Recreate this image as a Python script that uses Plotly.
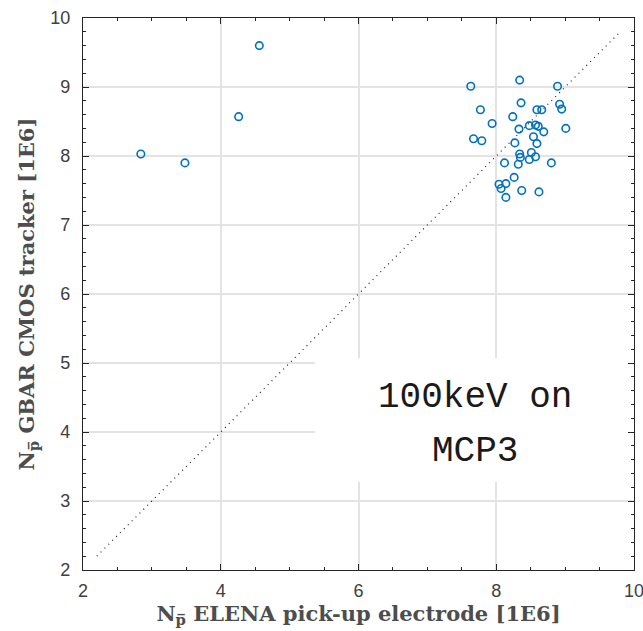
import plotly.graph_objects as go

# Antiproton counts per shot, in units of 1E6
x_pickup = [2.84, 3.48, 4.26, 4.56,
            7.63, 8.34, 8.89, 8.36, 7.77, 8.92, 8.95, 8.59, 8.66, 8.24,
            7.94, 8.48, 8.57, 8.61, 8.33, 8.69, 9.01, 7.67, 7.79, 8.54,
            8.27, 8.59, 8.34, 8.51, 8.35, 8.48, 8.57, 8.12, 8.32, 8.80,
            8.26, 8.04, 8.14, 8.07, 8.37, 8.62, 8.14]
y_cmos = [8.03, 7.90, 8.57, 9.60,
          9.01, 9.10, 9.01, 8.77, 8.67, 8.75, 8.68, 8.67, 8.67, 8.57,
          8.47, 8.44, 8.45, 8.43, 8.39, 8.35, 8.40, 8.25, 8.22, 8.28,
          8.19, 8.18, 8.03, 8.05, 7.98, 7.95, 7.99, 7.90, 7.88, 7.90,
          7.69, 7.59, 7.60, 7.53, 7.50, 7.48, 7.40]

# y = x reference line
diag = [2.2, 9.8]

x_ticks = [2, 4, 6, 8, 10]
y_ticks = [2, 3, 4, 5, 6, 7, 8, 9, 10]

label_lines = ["100keV on", "MCP3"]

frame = "#262626"
tick_col = "#404040"
grid_col = "#e3e3e3"

fig = go.Figure()

fig.add_trace(go.Scatter(
    x=diag, y=diag, mode="lines",
    line=dict(color="#222222", width=1.2, dash="1px,4.5px"),
    hoverinfo="skip", showlegend=False,
))

fig.add_trace(go.Scatter(
    x=x_pickup, y=y_cmos, mode="markers",
    marker=dict(symbol="circle-open", size=7.5, color="#0072BD",
                line=dict(width=1.6, color="#0072BD")),
    showlegend=False,
))

# white label panel sitting over the grid
fig.add_shape(type="rect", xref="x", yref="y",
              x0=5.37, x1=10, y0=3.28, y1=5.07,
              fillcolor="white", line=dict(width=0), layer="between")

for txt, yv in zip(label_lines, [4.50, 3.72]):
    fig.add_annotation(x=7.69, y=yv, xref="x", yref="y", text=txt,
                       showarrow=False,
                       font=dict(family="Courier New, Liberation Mono, monospace",
                                 size=36, color="#1a1a1a"))

axis_common = dict(
    showline=True, linecolor=frame, linewidth=1.3, mirror="allticks",
    ticks="inside", ticklen=6, tickwidth=1.2, tickcolor=frame,
    showgrid=True, gridcolor=grid_col, gridwidth=1.5, zeroline=False,
    ticklabeloverflow="allow", automargin=False,
    tickfont=dict(family="Liberation Sans, Arial, sans-serif", size=18, color=tick_col),
)

title_font = dict(family="DejaVu Serif, Liberation Serif, serif", size=21, color="#4d4d4d")

fig.update_xaxes(
    range=[2, 10], tickvals=x_ticks, ticktext=[str(v) for v in x_ticks],
    minor=dict(dtick=0.5, ticks="inside", ticklen=3, tickcolor=frame, showgrid=False),
    ticklabelstandoff=4,
    title=dict(text="<b>N<sub>p̅</sub> ELENA pick-up electrode [1E6]</b>",
               font=title_font, standoff=6),
    **axis_common,
)
fig.update_yaxes(
    range=[2, 10], tickvals=y_ticks, ticktext=[str(v) for v in y_ticks],
    minor=dict(dtick=0.2, ticks="inside", ticklen=3, tickcolor=frame, showgrid=False),
    ticklabelstandoff=8,
    title=dict(text="<b>N<sub>p̅</sub> GBAR CMOS tracker [1E6]</b>",
               font=title_font, standoff=9),
    **axis_common,
)

fig.update_layout(
    width=643, height=631,
    margin=dict(l=83, r=9, t=18, b=61),
    paper_bgcolor="white", plot_bgcolor="white",
)

fig.write_html("out.html")
